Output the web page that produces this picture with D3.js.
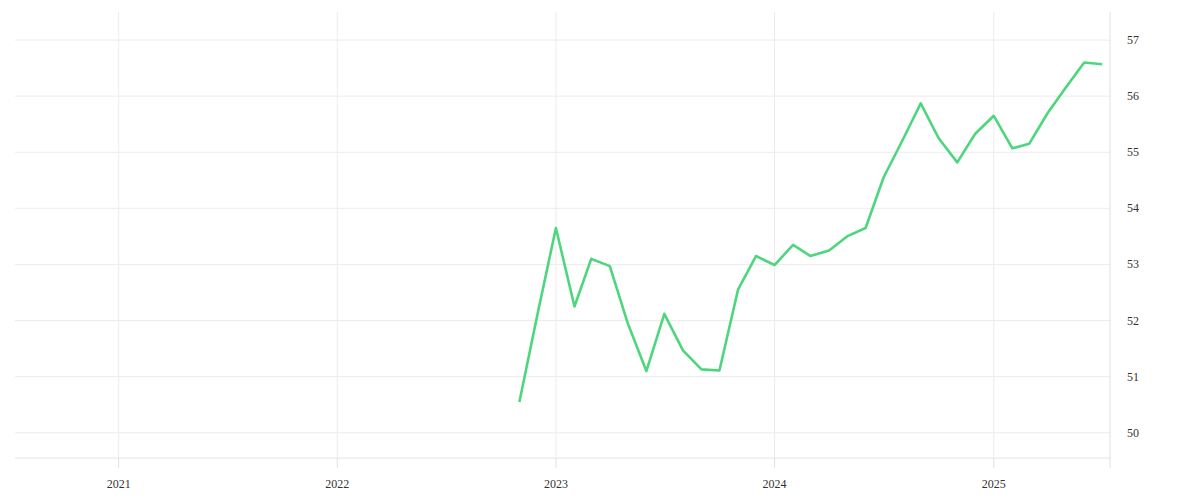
<!DOCTYPE html><html><head><meta charset="utf-8">
<script src="https://cdn.jsdelivr.net/npm/d3@7"></script>
<style>body{margin:0;background:#fff}</style></head><body><svg id="c" width="1200" height="500"></svg>
<script>
const startMonth = "2022-11";
const values = [50.55,52.1,53.65,52.25,53.1,52.97,51.95,51.1,52.12,51.47,51.13,51.11,52.55,53.15,52.99,53.35,53.15,53.25,53.5,53.65,54.55,55.2,55.87,55.25,54.82,55.33,55.65,55.07,55.15,55.7,56.15,56.6,56.57];
const yTicks = [50,51,52,53,54,55,56,57];
const xTicks = ["2021","2022","2023","2024","2025"];

const svg = d3.select("#c");
const L=15,R=1110,T=12,B=458;
const x = d3.scaleTime().domain([new Date(2020,6,12), new Date(2025,6,14)]).range([L,R]);
const y = d3.scaleLinear().domain([49.55,57.5]).range([B,T]);
const p = d3.timeParse("%Y-%m");
const s = p(startMonth);
const data = values.map((v,i)=>({d:d3.timeMonth.offset(s,i),v}));

const g = svg.append("g");
g.selectAll(".hy").data(yTicks).join("line").attr("x1",L).attr("x2",R).attr("y1",d=>y(d)).attr("y2",d=>y(d)).attr("stroke","#ececec");
g.append("line").attr("x1",L).attr("x2",R).attr("y1",B).attr("y2",B).attr("stroke","#e4e4e4");
g.selectAll(".vx").data(xTicks).join("line").attr("x1",d=>x(new Date(+d,0,1))).attr("x2",d=>x(new Date(+d,0,1))).attr("y1",T).attr("y2",B).attr("stroke","#ececec");
g.append("line").attr("x1",R).attr("x2",R).attr("y1",T).attr("y2",468).attr("stroke","#e0e0e0");
g.selectAll(".tx").data(xTicks).join("line").attr("x1",d=>x(new Date(+d,0,1))).attr("x2",d=>x(new Date(+d,0,1))).attr("y1",B).attr("y2",468).attr("stroke","#e0e0e0");
g.selectAll(".xl").data(xTicks).join("text").attr("x",d=>x(new Date(+d,0,1))).attr("y",488).attr("text-anchor","middle")
 .attr("font-family","Liberation Serif").attr("font-size",12).attr("fill","#333").text(d=>d);
g.selectAll(".yl").data(yTicks).join("text").attr("x",1127).attr("y",d=>y(d)+4).attr("text-anchor","start")
 .attr("font-family","Liberation Serif").attr("font-size",12).attr("fill","#333").text(d=>d);
g.append("path").datum(data).attr("fill","none").attr("stroke","#4dd67d").attr("stroke-width",2.6).attr("stroke-linejoin","round")
 .attr("d",d3.line().x(d=>x(d.d)).y(d=>y(d.v)));
</script></body></html>
